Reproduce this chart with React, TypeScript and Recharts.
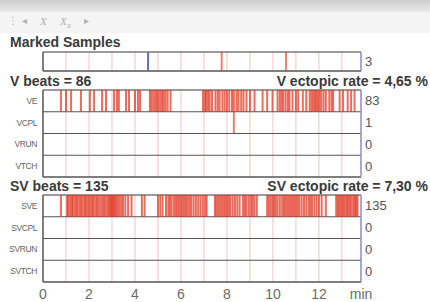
import React from 'react';
import { ScatterChart, Scatter, XAxis, YAxis, ReferenceLine } from 'recharts';

const FONT = '"Liberation Sans", Arial, sans-serif';
const T_MAX = 13.83;
const axisTicks = [0, 2, 4, 6, 8, 10, 12, T_MAX];
const gridMinutes = [1, 2, 3, 4, 5, 6, 7, 8, 9, 10, 11, 12, 13];

// marked samples
const markedRows = [''];
const markedCounts = [3];
const markedRed = [7.77, 10.57];
const markedBlue = [4.57];

// ventricular
const vRows = ['VE', 'VCPL', 'VRUN', 'VTCH'];
const vCounts = [83, 1, 0, 0];
const veTimes = [
  0.78, 1.0, 1.22, 1.65, 2.04, 2.22, 2.57, 2.74, 3.09, 3.22, 3.3, 3.61, 3.74, 4.0, 4.13, 4.22,
  4.65, 4.72, 4.8, 4.88, 4.95, 5.02, 5.1, 5.18, 5.25, 5.33, 5.42, 5.55,
  6.96, 7.05, 7.1, 7.18, 7.25, 7.35, 7.5, 7.6, 7.68, 7.8, 7.9, 8.0, 8.1, 8.22, 8.3, 8.42, 8.5,
  8.62, 8.72, 8.85, 9.0, 9.2,
  9.55, 9.75, 9.98, 10.2, 10.3, 10.38, 10.45, 10.55, 10.65, 10.72, 10.85, 11.0, 11.1, 11.3,
  11.45, 11.6, 11.68, 11.75, 11.82, 11.88, 11.95, 12.02, 12.1, 12.2, 12.3, 12.45, 12.55, 12.62,
  12.9, 13.05, 13.25, 13.4, 13.55,
];
const vcplTimes = [8.3];

// supraventricular
const svRows = ['SVE', 'SVCPL', 'SVRUN', 'SVTCH'];
const svCounts = [135, 0, 0, 0];
const sveTimes = [
  0.78,
  1.05, 1.1, 1.18, 1.25, 1.3, 1.38, 1.45, 1.5, 1.58, 1.65, 1.72, 1.8, 1.85, 1.92, 2.0, 2.08,
  2.15, 2.2, 2.28, 2.35, 2.42, 2.5, 2.58, 2.65, 2.72, 2.8, 2.86, 2.92, 2.97, 3.02, 3.07, 3.12,
  3.18, 3.25, 3.32, 3.4, 3.48, 3.58, 3.7, 3.85,
  4.3, 4.42,
  5.0, 5.1, 5.2, 5.35, 5.45, 5.52, 5.6, 5.7, 5.78, 5.85, 5.92, 6.0, 6.08, 6.15, 6.22, 6.3,
  6.38, 6.45, 6.55, 6.65, 6.75, 6.85, 6.95, 7.05, 7.12,
  7.48, 7.55, 7.62, 7.7, 7.78, 7.85, 7.92, 8.0, 8.08, 8.15, 8.25, 8.35, 8.45, 8.55,
  8.7, 8.78, 8.85, 8.95, 9.05, 9.12, 9.2, 9.3,
  9.75, 9.82, 9.9, 9.98, 10.05, 10.12, 10.2, 10.3, 10.4, 10.48, 10.55, 10.62, 10.7, 10.78,
  10.85, 10.92, 11.0, 11.08, 11.15, 11.25, 11.35, 11.45, 11.55, 11.62, 11.7, 11.8, 11.9, 12.0,
  12.12, 12.3,
  12.75, 12.82, 12.88, 12.95, 13.02, 13.08, 13.15, 13.22, 13.28, 13.35, 13.42, 13.5, 13.56,
  13.62, 13.68,
];

type Series = { times: number[]; row: number; color: string; opacity: number };

const RED = '#e02a14';

function Strip({ rows, counts, series, top, plotH, showAxis }: {
  rows: string[]; counts: number[]; series: Series[]; top: number; plotH: number; showAxis?: boolean;
}) {
  const n = rows.length;
  const half = plotH / n / 2;
  const height = 1 + plotH + (showAxis ? 20 : 1);
  const centers = rows.map((_, i) => i + 0.5);

  return (
    <div style={{ position: 'absolute', left: 0, top }}>
      <ScatterChart width={430} height={height} margin={{ top: 1, right: 0, bottom: showAxis ? 0 : 1, left: 0 }}>
        <XAxis
          type="number"
          dataKey="t"
          domain={[0, T_MAX]}
          ticks={axisTicks}
          interval={0}
          hide={!showAxis}
          height={20}
          axisLine={false}
          tickLine={false}
          tickMargin={1}
          tickFormatter={(v: number) => (v === T_MAX ? 'min' : String(v))}
          tick={{ fontSize: 14, fill: '#6a6a6a', fontFamily: FONT }}
        />
        <YAxis
          yAxisId="l"
          type="number"
          dataKey="y"
          domain={[0, n]}
          reversed
          ticks={centers}
          interval={0}
          width={43}
          axisLine={false}
          tickLine={false}
          tickMargin={0}
          tickFormatter={(v: number) => rows[Math.floor(v)]}
          tick={{ fontSize: 8.5, fill: '#666', fontFamily: FONT, letterSpacing: -0.4 }}
        />
        <YAxis
          yAxisId="r"
          orientation="right"
          type="number"
          dataKey="y"
          domain={[0, n]}
          reversed
          ticks={centers}
          interval={0}
          width={69}
          axisLine={false}
          tickLine={false}
          tickMargin={-2}
          tickFormatter={(v: number) => String(counts[Math.floor(v)])}
          tick={{ fontSize: 13, fill: '#555', fontFamily: FONT }}
        />
        {gridMinutes.map((m) => (
          <ReferenceLine key={'g' + m} x={m} yAxisId="l" stroke="#f2c4be" strokeWidth={1} />
        ))}
        {/* invisible anchor so the right-hand count axis is drawn */}
        <Scatter
          yAxisId="r"
          data={centers.map((y) => ({ t: 0, y }))}
          isAnimationActive={false}
          shape={() => <g />}
        />
        {series.map((s, i) => (
          <Scatter
            key={i}
            yAxisId="l"
            data={s.times.map((t) => ({ t, y: s.row + 0.5 }))}
            isAnimationActive={false}
            shape={(p: any) => (
              <line
                x1={p.cx}
                x2={p.cx}
                y1={p.cy - half}
                y2={p.cy + half}
                stroke={s.color}
                strokeOpacity={s.opacity}
                strokeWidth={2}
              />
            )}
          />
        ))}
        {rows.slice(1).map((_, i) => (
          <ReferenceLine key={'r' + i} y={i + 1} yAxisId="l" stroke="#555" strokeWidth={1} />
        ))}
        <ReferenceLine y={0} yAxisId="l" stroke="#7a7a7a" strokeWidth={1.5} />
        <ReferenceLine y={n} yAxisId="l" stroke="#555" strokeWidth={1.5} />
        <ReferenceLine x={0} yAxisId="l" stroke="#555" strokeWidth={1.5} />
        <ReferenceLine x={T_MAX} yAxisId="l" stroke="#8a8acc" strokeWidth={1.5} />
      </ScatterChart>
    </div>
  );
}

const title: React.CSSProperties = {
  position: 'absolute',
  fontFamily: FONT,
  fontWeight: 'bold',
  fontSize: 14,
  lineHeight: '16px',
  color: '#3a3a3a',
  whiteSpace: 'nowrap',
};

const icon: React.CSSProperties = {
  position: 'absolute',
  top: 15,
  fontSize: 10,
  color: '#b0b0b0',
  fontFamily: '"DejaVu Sans", sans-serif',
};

export default function App() {
  return (
    <div style={{ position: 'absolute', left: 0, top: 0, width: 430, height: 302, background: '#fff', overflow: 'hidden' }}>
      <div style={{ position: 'absolute', left: 0, top: 0, width: 430, height: 12, background: 'linear-gradient(#cdcdcd, #e9e9e9)' }} />
      <div style={{ position: 'absolute', left: 0, top: 12, width: 430, height: 21, background: '#f4f4f4' }} />
      <span style={{ ...icon, left: 8 }}>⋮</span>
      <span style={{ ...icon, left: 22 }}>◂</span>
      <span style={{ ...icon, left: 40, fontFamily: 'serif', fontStyle: 'italic', fontSize: 11 }}>X</span>
      <span style={{ ...icon, left: 60, fontFamily: 'serif', fontStyle: 'italic', fontSize: 11 }}>
        X<sub style={{ fontSize: 7 }}>X</sub>
      </span>
      <span style={{ ...icon, left: 84 }}>▸</span>

      <div style={{ ...title, left: 10, top: 34 }}>Marked Samples</div>
      <Strip
        rows={markedRows}
        counts={markedCounts}
        top={51}
        plotH={19}
        series={[
          { times: markedRed, row: 0, color: RED, opacity: 0.6 },
          { times: markedBlue, row: 0, color: '#6a6ab4', opacity: 1 },
        ]}
      />

      <div style={{ ...title, left: 10, top: 73 }}>V beats = 86</div>
      <div style={{ ...title, right: 2, top: 73 }}>V ectopic rate = 4,65 %</div>
      <Strip
        rows={vRows}
        counts={vCounts}
        top={89}
        plotH={87}
        series={[
          { times: veTimes, row: 0, color: RED, opacity: 0.68 },
          { times: vcplTimes, row: 1, color: RED, opacity: 0.6 },
        ]}
      />

      <div style={{ ...title, left: 10, top: 178 }}>SV beats = 135</div>
      <div style={{ ...title, right: 2, top: 178 }}>SV ectopic rate = 7,30 %</div>
      <Strip
        rows={svRows}
        counts={svCounts}
        top={194}
        plotH={87}
        showAxis
        series={[{ times: sveTimes, row: 0, color: RED, opacity: 0.68 }]}
      />
    </div>
  );
}
